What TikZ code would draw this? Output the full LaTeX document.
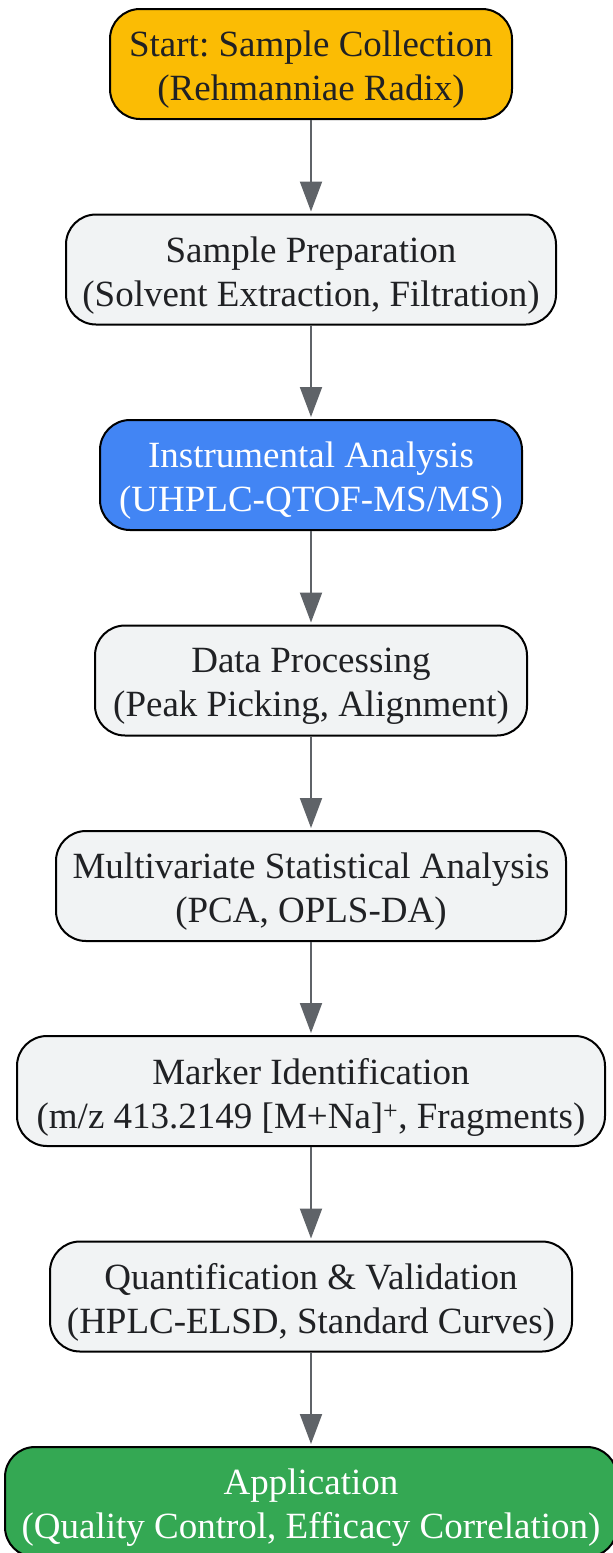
\documentclass[tikz,border=0pt]{standalone}
\usepackage{fontspec}
\setmainfont{Liberation Serif}
\usetikzlibrary{arrows.meta}
\definecolor{txt}{HTML}{202124}
\definecolor{grayfill}{HTML}{F1F3F4}
\definecolor{yellowfill}{HTML}{FBBC04}
\definecolor{bluefill}{HTML}{4285F4}
\definecolor{greenfill}{HTML}{34A853}
\definecolor{arrowc}{HTML}{5F6368}
\frenchspacing
\begin{document}
\begin{tikzpicture}[x=1pt,y=1pt,
  stepbox/.style={draw=black, line width=2pt, rounded corners=30pt, minimum height=110pt,
    inner sep=0pt, fill=grayfill},
  steptext/.style={inner sep=0pt, align=center, text=txt, font=\fontsize{37}{44}\selectfont},
  wtext/.style={steptext, text=white},
  flow/.style={draw=arrowc, line width=2pt, -{Triangle[length=30pt,width=22pt]}, shorten >=2pt}]
\useasboundingbox (0,0) rectangle (613,-1553);
\node[stepbox, fill=yellowfill, minimum width=402pt] (n1) at (311,-64) {};
\node[stepbox, minimum width=490pt] (n2) at (311,-269.5) {};
\node[stepbox, fill=bluefill, minimum width=422pt] (n3) at (311,-475) {};
\node[stepbox, minimum width=432pt] (n4) at (311,-680.5) {};
\node[stepbox, minimum width=510pt] (n5) at (311,-886) {};
\node[stepbox, minimum width=588pt] (n6) at (311,-1091) {};
\node[stepbox, minimum width=522pt] (n7) at (311,-1296.5) {};
\node[stepbox, fill=greenfill, minimum width=612pt] (n8) at (311,-1502) {};
\node[steptext] (t1) at ([yshift=-6pt]n1.center) {Start: Sample Collection\\(Rehmanniae Radix)};
\node[steptext] (t2) at ([yshift=-6pt]n2.center) {Sample Preparation\\(Solvent Extraction, Filtration)};
\node[wtext] (t3) at ([yshift=-6pt]n3.center) {Instrumental Analysis\\(UHPLC-QTOF-MS/MS)};
\node[steptext] (t4) at ([yshift=-6pt]n4.center) {Data Processing\\(Peak Picking, Alignment)};
\node[steptext] (t5) at ([yshift=-6pt]n5.center) {Multivariate Statistical Analysis\\(PCA, OPLS-DA)};
\node[steptext] (t6) at ([yshift=-6pt]n6.center) {Marker Identification\\(m/z 413.2149 [M+Na]\textsuperscript{+}, Fragments)};
\node[steptext] (t7) at ([yshift=-6pt]n7.center) {Quantification \& Validation\\(HPLC-ELSD, Standard Curves)};
\node[wtext] (t8) at ([yshift=-6pt]n8.center) {Application\\(Quality Control, Efficacy Correlation)};
\foreach \a/\b in {n1/n2,n2/n3,n3/n4,n4/n5,n5/n6,n6/n7,n7/n8}
  \draw[flow] (\a.south) -- (\b.north);
\end{tikzpicture}
\end{document}
